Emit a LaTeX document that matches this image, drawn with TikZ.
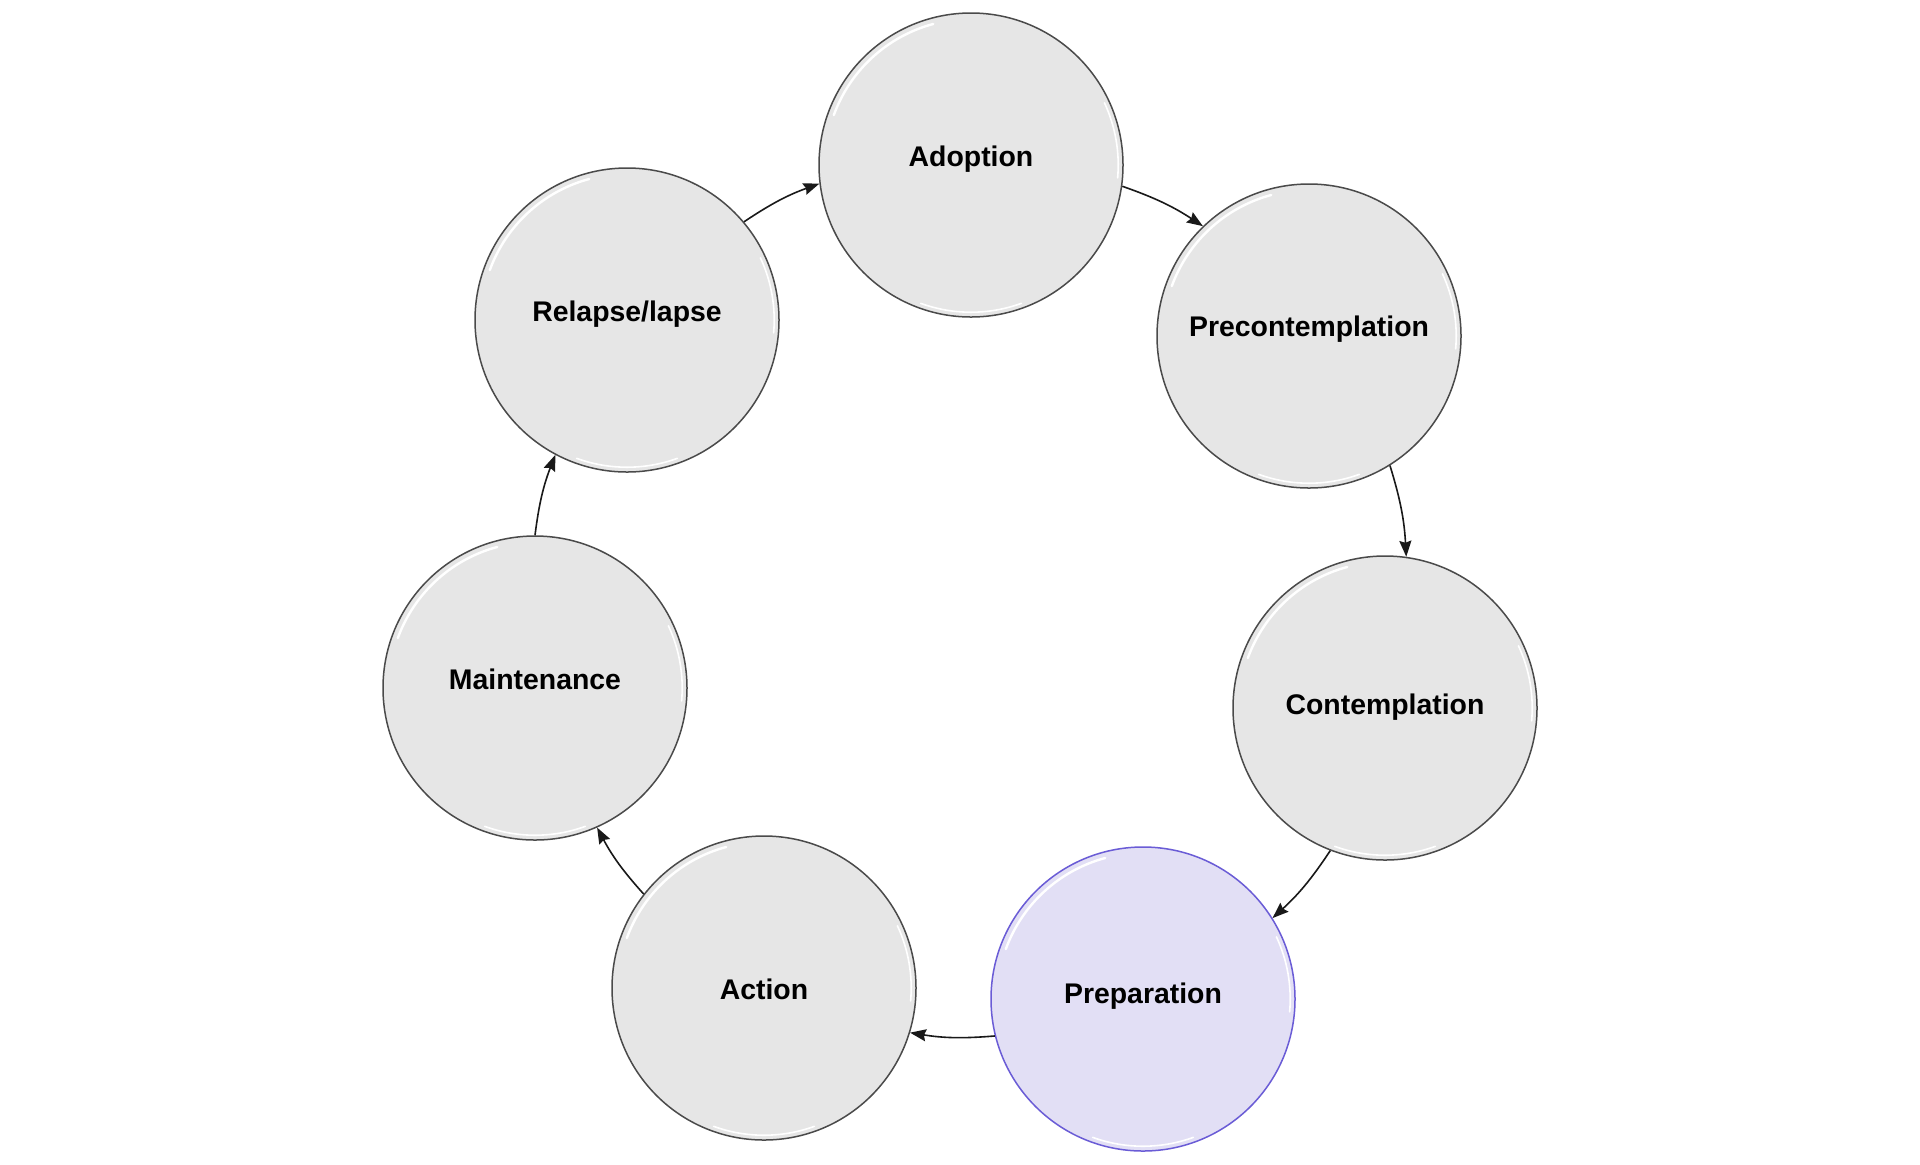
\documentclass[tikz,border=0pt]{standalone}
\usepackage{fontspec}
\setmainfont{Liberation Sans}
\usetikzlibrary{arrows.meta}
\definecolor{stagefill}{HTML}{E6E6E6}
\definecolor{stageline}{HTML}{4A4A4A}
\definecolor{prepfill}{HTML}{E2DFF5}
\definecolor{prepline}{HTML}{6A5CD6}
\newcommand{\sketchhl}[1]{%
  \begin{scope}[shift={(#1.center)}]
    \draw[hlstroke, line width=1.2pt] (105:73pt) arc[start angle=105,end angle=160,radius=73pt];
    \draw[hlstroke] (-5:73.6pt) arc[start angle=-5,end angle=25,radius=73.6pt];
    \draw[hlstroke] (250:73.6pt) arc[start angle=250,end angle=290,radius=73.6pt];
  \end{scope}}
\begin{document}
\begin{tikzpicture}[x=0.5pt,y=-0.5pt,
  stage/.style={circle, minimum size=152pt, inner sep=0pt, fill=stagefill,
    draw=stageline, line width=0.75pt,
    font=\bfseries\fontsize{14.2pt}{17pt}\selectfont, text=black,
    text height=6pt, text depth=4.5pt},
  lift/.style={text height=6pt+#1},
  prepstage/.style={stage, fill=prepfill, draw=prepline},
  hlstroke/.style={draw=white, line width=0.8pt, line cap=round},
  flow/.style={-{Stealth[length=8pt,width=6pt,inset=1pt]}, line width=0.8pt,
    draw=black!90, bend left=7}]
\useasboundingbox[fill=white] (0,0) rectangle (1920,1164);

\node[stage] (adopt) at (971,165) {Adoption};
\node[stage, lift=-1pt] (precon) at (1309,336) {Precontemplation};
\node[stage, lift=5pt] (contem) at (1385,708) {Contemplation};
\node[prepstage, lift=2.5pt] (prep) at (1143,999) {Preparation};
\node[stage, lift=9.5pt] (action) at (764,988) {Action};
\node[stage] (maint) at (535,688) {Maintenance};
\node[stage] (relapse) at (627,320) {Relapse/lapse};

\sketchhl{adopt}
\sketchhl{precon}
\sketchhl{contem}
\sketchhl{prep}
\sketchhl{action}
\sketchhl{maint}
\sketchhl{relapse}

\draw[flow] (adopt.-8) to (precon.134);
\draw[flow] (precon.-58) to (contem.82);
\draw[flow] (contem.-111) to (prep.32);
\draw[flow] (prep.194) to (action.-17);
\draw[flow] (action.142) to (maint.-66);
\draw[flow] (maint.90) to (relapse.242);
\draw[flow] (relapse.40) to (adopt.187);
\end{tikzpicture}
\end{document}
